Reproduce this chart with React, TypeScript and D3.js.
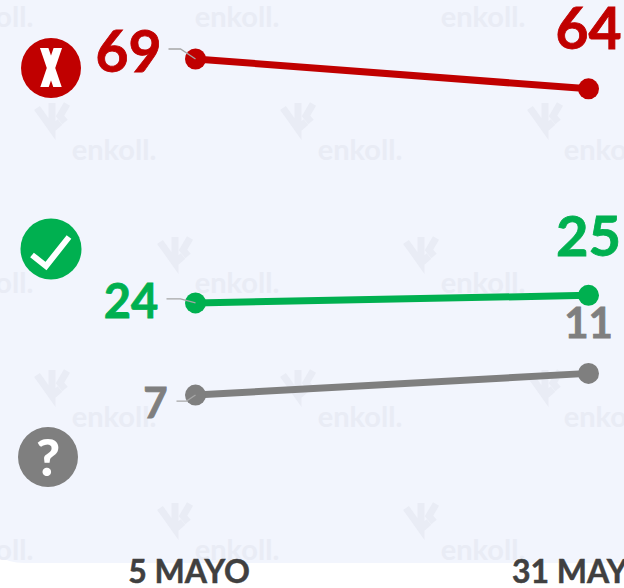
import React from 'react';
import * as d3 from 'd3';

const dates = ['5 MAYO', '31 MAYO'];
const rechazo = [69, 63.5];
const aprueba = [24, 25.4];
const noSabe = [7, 11];

// label text as printed in the picture
const rechazoLabels = ['69', '64'];
const apruebaLabels = ['24', '25'];
const noSabeLabels = ['7', '11'];

const watermarkTextCols = [-9, 237, 483];
const watermarkTextColsAlt = [114, 360, 606];
const watermarkTextRows = [17, 283, 550];
const watermarkTextRowsAlt = [150, 417];
const watermarkLogoCols = [52, 298, 545];
const watermarkLogoColsAlt = [175, 421];
const watermarkLogoRows = [116, 383];
const watermarkLogoRowsAlt = [250, 516];

const width = 624;
const height = 588;
const font = 'Lato, Carlito, sans-serif';

const x = d3.scalePoint<string>().domain(dates).range([195.5, 588.5]);
const y = d3.scaleLinear().domain([0, 80]).range([433, -0.6]);

const line = d3.line<number>()
  .x((_, i) => x(dates[i]) as number)
  .y(d => y(d));

const leader = d3.line<[number, number]>().curve(d3.curveLinear);

const series = [
  {
    values: rechazo, labels: rechazoLabels, color: '#C00000',
    labelStyle: [{ dx: -67, dy: 13, size: 57 }, { dx: 0, dy: -40, size: 57 }],
    leader: [[-27, -10], [-15, -10], [0, 0]] as [number, number][],
  },
  {
    values: aprueba, labels: apruebaLabels, color: '#00B050',
    labelStyle: [{ dx: -64.5, dy: 15, size: 47 }, { dx: 0, dy: -39, size: 56 }],
    leader: [[-29, -4], [-15, -4], [0, 0]] as [number, number][],
  },
  {
    values: noSabe, labels: noSabeLabels, color: '#7F7F7F',
    labelStyle: [{ dx: -40, dy: 23, size: 42 }, { dx: 0, dy: -35, size: 42 }],
    leader: [[-19, 6], [-9, 6], [0, 0]] as [number, number][],
  },
];

const logoPath = 'M-15 -8 L0 13 L0 -13 M0 13 L8 6 M15 -12 L8 0 L13 6';

function Watermark({ cx, cy }: { cx: number; cy: number }) {
  return (
    <text x={cx} y={cy + 10} textAnchor="middle" fontFamily={font} fontWeight={700} fontSize={29} fill="#E9ECF5">
      enkoll.
    </text>
  );
}

export default function App() {
  const textSpots: [number, number][] = [
    ...d3.cross(watermarkTextCols, watermarkTextRows),
    ...d3.cross(watermarkTextColsAlt, watermarkTextRowsAlt),
  ];
  const logoSpots: [number, number][] = [
    ...d3.cross(watermarkLogoCols, watermarkLogoRows),
    ...d3.cross(watermarkLogoColsAlt, watermarkLogoRowsAlt),
  ];

  return (
    <svg width={width} height={height} style={{ position: 'absolute', left: 0, top: 0, background: '#fff' }}>
      {/* panel */}
      <path d="M0 0 H624 V563 H24 Q8 563 0 556 Z" fill="#F2F5FD" />

      {/* watermarks */}
      {textSpots.map(([cx, cy]) => <Watermark key={`${cx}-${cy}`} cx={cx} cy={cy} />)}
      {logoSpots.map(([cx, cy]) => (
        <path
          key={`${cx}-${cy}`}
          d={logoPath}
          transform={`translate(${cx},${cy})`}
          fill="none"
          stroke="#E9ECF5"
          strokeWidth={7}
        />
      ))}

      {/* series */}
      {series.map(s => (
        <g key={s.color}>
          <path d={line(s.values) as string} fill="none" stroke={s.color} strokeWidth={7} />
          {s.values.map((v, i) => (
            <circle key={i} cx={x(dates[i])} cy={y(v)} r={10.5} fill={s.color} />
          ))}
          <path
            d={leader(s.leader) as string}
            transform={`translate(${x(dates[0])},${y(s.values[0])})`}
            fill="none"
            stroke="#A6A6A6"
            strokeWidth={1.3}
          />
          {s.labels.map((t, i) => (
            <text
              key={i}
              x={(x(dates[i]) as number) + s.labelStyle[i].dx}
              y={y(s.values[i]) + s.labelStyle[i].dy}
              textAnchor="middle"
              fontFamily={font}
              fontWeight={700}
              fontSize={s.labelStyle[i].size}
              fill={s.color}
              stroke={s.color}
              strokeWidth={0.8}
            >
              {t}
            </text>
          ))}
        </g>
      ))}

      {/* x labels */}
      {dates.map(d => (
        <text
          key={d}
          x={(x(d) as number) - 6.5}
          y={583}
          textAnchor="middle"
          fontFamily={font}
          fontWeight={700}
          fontSize={32}
          fill="#404040"
          stroke="#404040"
          strokeWidth={0.5}
        >
          {d}
        </text>
      ))}

      {/* legend icons */}
      <circle cx={51} cy={68} r={30} fill="#C00000" />
      <clipPath id="x-icon">
        <rect x={36} y={48} width={30} height={39} />
      </clipPath>
      <path d="M43.5 46 L58.5 90 M58.5 46 L43.5 90" stroke="#fff" strokeWidth={8} fill="none" clipPath="url(#x-icon)" />
      <circle cx={51} cy={249} r={30.5} fill="#00B050" />
      <path d="M32 255 L46 266 L69 237" stroke="#fff" strokeWidth={6} fill="none" />
      <circle cx={48} cy={457} r={30} fill="#7F7F7F" />
      <text x={48} y={476} textAnchor="middle" fontFamily={font} fontWeight={900} fontSize={52} fill="#fff">?</text>
    </svg>
  );
}
